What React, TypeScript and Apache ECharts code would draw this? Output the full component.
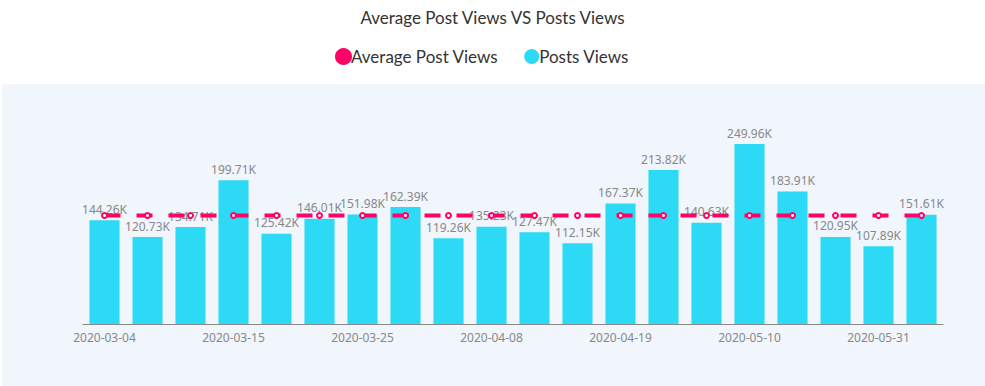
import React, { useEffect, useRef } from "react";
import * as echarts from "echarts";

const categories = [
  "2020-03-04", "2020-03-08", "2020-03-11", "2020-03-15", "2020-03-18",
  "2020-03-22", "2020-03-25", "2020-03-29", "2020-04-01", "2020-04-08",
  "2020-04-12", "2020-04-15", "2020-04-19", "2020-04-26", "2020-05-03",
  "2020-05-10", "2020-05-17", "2020-05-24", "2020-05-31", "2020-06-07",
];
const postsViews = [
  144260, 120730, 134710, 199710, 125420, 146010, 151980, 162390, 119260, 135230,
  127470, 112150, 167370, 213820, 140630, 249960, 183910, 120950, 107890, 151610,
];
const averageValue = 150773;
const averageViews = categories.map(() => averageValue);

const RED = "#fe0266";
const CYAN = "#2cdaf5";

export default function App() {
  const ref = useRef<HTMLDivElement>(null);
  useEffect(() => {
    if (!ref.current) return;
    const chart = echarts.init(ref.current, null, { renderer: "svg" });
    chart.setOption({
      animation: false,
      backgroundColor: "#ffffff",
      graphic: [
        {
          type: "rect",
          z: -10,
          shape: { x: 2, y: 84, width: 983, height: 302 },
          style: { fill: "#f1f5fc" },
          silent: true,
        },
      ],
      title: {
        text: "Average Post Views VS Posts Views",
        left: "center",
        top: 4,
        textStyle: {
          fontFamily: "Lato",
          fontSize: 17,
          fontWeight: "normal",
          color: "#333",
        },
      },
      legend: {
        top: 43,
        left: 330,
        icon: "circle",
        itemWidth: 15,
        itemHeight: 15,
        itemGap: 26,
        textStyle: {
          fontFamily: "Lato",
          fontSize: 17,
          color: "#333",
          padding: [0, 0, 0, -5],
        },
        data: ["Average Post Views", "Posts Views"],
      },
      grid: { left: 83, right: 42, top: 108, bottom: 62 },
      xAxis: {
        type: "category",
        data: categories,
        axisLine: { lineStyle: { color: "#888" } },
        axisTick: { alignWithLabel: true, interval: 2, length: 5, lineStyle: { color: "#888" } },
        axisLabel: {
          interval: 2,
          color: "#888",
          fontSize: 12,
          fontFamily: "Noto Sans",
          margin: 7,
        },
      },
      yAxis: {
        type: "value",
        min: 0,
        max: 300000,
        show: false,
        splitLine: { show: false },
      },
      series: [
        {
          name: "Posts Views",
          type: "bar",
          data: postsViews,
          barCategoryGap: "30%",
          itemStyle: { color: CYAN },
          z: 2,
          label: {
            show: true,
            position: "top",
            distance: 5,
            color: "#888",
            fontSize: 12,
            fontFamily: "Noto Sans",
            formatter: (p: any) => (p.value / 1000).toFixed(2) + "K",
          },
        },
        {
          name: "Average Post Views",
          type: "line",
          data: averageViews,
          z: 5,
          symbol: "emptyCircle",
          symbolSize: 5,
          lineStyle: { color: RED, width: 4, type: [16, 16] },
          itemStyle: { color: RED, borderColor: RED, borderWidth: 1 },
        },
      ],
    });
    return () => chart.dispose();
  }, []);
  return (
    <div
      ref={ref}
      style={{ position: "fixed", left: 0, top: 0, width: 985, height: 386 }}
    />
  );
}
